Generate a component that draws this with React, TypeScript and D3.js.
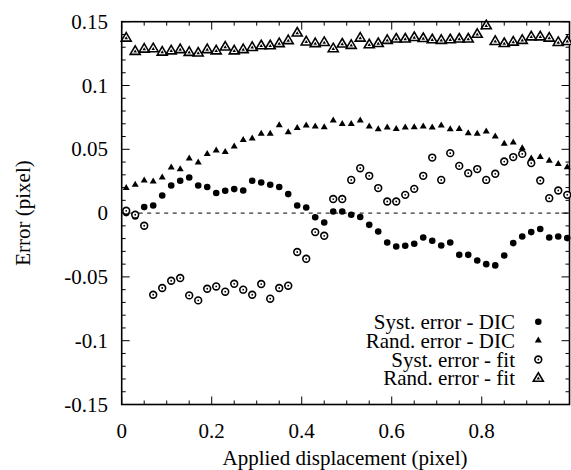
import React from 'react';
import * as d3 from 'd3';

const displacement = [0.01, 0.03, 0.05, 0.07, 0.09, 0.11, 0.13, 0.15, 0.17, 0.19, 0.21, 0.23, 0.25, 0.27, 0.29, 0.31, 0.33, 0.35, 0.37, 0.39, 0.41, 0.43, 0.45, 0.47, 0.49, 0.51, 0.53, 0.55, 0.57, 0.59, 0.61, 0.63, 0.65, 0.67, 0.69, 0.71, 0.73, 0.75, 0.77, 0.79, 0.81, 0.83, 0.85, 0.87, 0.89, 0.91, 0.93, 0.95, 0.97, 0.99];

const systDIC = [0.0, -0.0026, 0.0047, 0.006, 0.0138, 0.0216, 0.0253, 0.0279, 0.0216, 0.0204,
  0.0157, 0.0175, 0.0188, 0.0177, 0.0253, 0.024, 0.0222, 0.0204, 0.0149, 0.006,
  0.0044, -0.0033, -0.0074, 0.0013, 0.0013, -0.0013, -0.0031, -0.0092, -0.0144, -0.023,
  -0.0262, -0.0256, -0.024, -0.0191, -0.0217, -0.0254, -0.023, -0.0327, -0.0327, -0.0371,
  -0.04, -0.041, -0.0332, -0.0235, -0.0183, -0.0149, -0.0125, -0.0191, -0.0183, -0.0196];

const randDIC = [0.0196, 0.0222, 0.0255, 0.0247, 0.0279, 0.0357, 0.0344, 0.0428, 0.0396, 0.0464,
  0.049, 0.0478, 0.0522, 0.0572, 0.0584, 0.0621, 0.0621, 0.0689, 0.0634, 0.0666,
  0.0686, 0.0678, 0.0673, 0.0725, 0.0699, 0.0699, 0.0725, 0.0678, 0.0658, 0.067,
  0.066, 0.067, 0.0673, 0.0678, 0.067, 0.0686, 0.0658, 0.066, 0.0626, 0.0621,
  0.0639, 0.06, 0.0543, 0.0553, 0.0509, 0.0428, 0.0439, 0.041, 0.0384, 0.036];

const systFit = [0.0018, -0.0013, -0.0099, -0.064, -0.0587, -0.053, -0.0509, -0.0645, -0.0684, -0.0593,
  -0.0575, -0.0616, -0.0554, -0.06, -0.064, -0.0556, -0.0671, -0.0587, -0.0569, -0.0305,
  -0.0358, -0.0149, -0.0178, 0.011, 0.011, 0.026, 0.0352, 0.0292, 0.0196, 0.0091,
  0.0091, 0.0143, 0.019, 0.0292, 0.0435, 0.026, 0.047, 0.037, 0.0313, 0.0345,
  0.026, 0.0308, 0.0404, 0.0439, 0.0464, 0.0392, 0.0255, 0.0117, 0.0177, 0.0143];

const randFit = [0.137, 0.1266, 0.1284, 0.1287, 0.126, 0.127, 0.128, 0.1258, 0.1253, 0.128,
  0.127, 0.13, 0.127, 0.128, 0.1297, 0.131, 0.131, 0.1327, 0.135, 0.141,
  0.134, 0.1327, 0.1336, 0.1287, 0.1324, 0.1313, 0.137, 0.1318, 0.1328, 0.1352,
  0.1363, 0.1363, 0.1375, 0.1367, 0.1357, 0.1352, 0.1357, 0.1363, 0.1363, 0.14,
  0.1467, 0.1344, 0.1328, 0.1339, 0.1352, 0.138, 0.138, 0.137, 0.1336, 0.1344];

const xMajorTicks = [0, 0.2, 0.4, 0.6, 0.8];
const xTickLabels = ['0', '0.2', '0.4', '0.6', '0.8'];
const xMinorTicks = [0.05, 0.1, 0.15, 0.25, 0.3, 0.35, 0.45, 0.5, 0.55, 0.65, 0.7, 0.75, 0.85, 0.9, 0.95];
const yMajorTicks = [-0.15, -0.1, -0.05, 0, 0.05, 0.1, 0.15];
const yTickLabels = ['-0.15', '-0.1', '-0.05', '0', '0.05', '0.1', '0.15'];
const legendLabels = ['Syst. error - DIC', 'Rand. error - DIC', 'Syst. error - fit', 'Rand. error - fit'];

const FONT = '"Liberation Serif", Tinos, "Times New Roman"';
const W = 571, H = 470;
const left = 121.7, right = 569.5, top = 21.7, bottom = 404.5;

function triPath(w: number, h: number) {
  return `M0,${-h * 2 / 3}L${w / 2},${h / 3}L${-w / 2},${h / 3}Z`;
}

function Marker({ kind, x, y }: { kind: number; x: number; y: number }) {
  const t = `translate(${x},${y})`;
  if (kind === 0) return <circle cx={x} cy={y} r={3.3} fill="#000" />;
  if (kind === 1) return <path transform={t} d={triPath(7, 6)} fill="#000" />;
  if (kind === 2)
    return (
      <g transform={t}>
        <circle r={3.4} fill="#fff" stroke="#000" strokeWidth={1.6} />
        <circle r={0.9} fill="#000" />
      </g>
    );
  return (
    <g transform={t}>
      <path d={triPath(10, 8.5)} fill="#fff" stroke="#000" strokeWidth={1.6} strokeLinejoin="miter" />
      <path d={triPath(3.5, 3)} fill="#000" />
    </g>
  );
}

const textStyle: React.CSSProperties = { fontFamily: FONT, fontSize: '21px' };

export default function App() {
  const x = d3.scaleLinear().domain([0, 0.995]).range([left, right]);
  const y = d3.scaleLinear().domain([-0.15, 0.15]).range([bottom, top]);
  const series = [systDIC, randDIC, systFit, randFit];
  const yMinor = d3.range(-15, 16).map((v) => v / 100);

  return (
    <svg width={W} height={H} style={{ position: 'absolute', left: 0, top: 0, background: '#fff' }}>
      <rect width={W} height={H} fill="#fff" />
      <line x1={left} x2={right} y1={y(0)} y2={y(0)} stroke="#000" strokeWidth={1} strokeDasharray="4,4.5" />
      {yMinor.map((v, i) => {
        const major = Math.abs(Math.round(v * 100) % 5) === 0;
        const len = major ? 8 : 4;
        return (
          <g key={'ym' + i}>
            <line x1={left} x2={left + len} y1={y(v)} y2={y(v)} stroke="#000" strokeWidth={1} />
            <line x1={right} x2={right - len} y1={y(v)} y2={y(v)} stroke="#000" strokeWidth={1} />
          </g>
        );
      })}
      {xMinorTicks.map((v, i) => (
        <g key={'xm' + i}>
          <line x1={x(v)} x2={x(v)} y1={bottom} y2={bottom - 4} stroke="#000" strokeWidth={1} />
          <line x1={x(v)} x2={x(v)} y1={top} y2={top + 4} stroke="#000" strokeWidth={1} />
        </g>
      ))}
      {xMajorTicks.map((v, i) => (
        <g key={'xM' + i}>
          <line x1={x(v)} x2={x(v)} y1={bottom} y2={bottom - 8} stroke="#000" strokeWidth={1} />
          <line x1={x(v)} x2={x(v)} y1={top} y2={top + 8} stroke="#000" strokeWidth={1} />
          <text x={x(v)} y={438} textAnchor="middle" style={textStyle}>{xTickLabels[i]}</text>
        </g>
      ))}
      {yMajorTicks.map((v, i) => (
        <text key={'yl' + i} x={108} y={y(v) + 7} textAnchor="end" style={textStyle}>{yTickLabels[i]}</text>
      ))}
      <rect x={left} y={top} width={right - left} height={bottom - top} fill="none" stroke="#000" strokeWidth={1.6} />
      {series.map((s, si) => (
        <g key={'s' + si}>
          {s.map((v, i) => (
            <Marker key={i} kind={si} x={x(displacement[i])} y={y(v)} />
          ))}
        </g>
      ))}
      {legendLabels.map((lab, i) => {
        const ly = 321.7 + i * 18.9;
        return (
          <g key={'lg' + i}>
            <text x={515} y={ly + 7} textAnchor="end" style={textStyle}>{lab}</text>
            <Marker kind={i} x={538.3} y={ly} />
          </g>
        );
      })}
      <text x={345} y={465} textAnchor="middle" style={textStyle}>Applied displacement (pixel)</text>
      <text transform={`translate(30,213) rotate(-90)`} textAnchor="middle" style={textStyle}>Error (pixel)</text>
    </svg>
  );
}
